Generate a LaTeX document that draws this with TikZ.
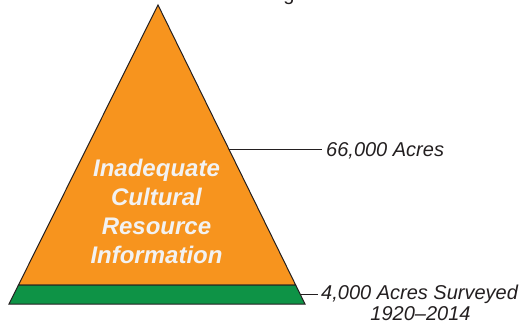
\documentclass[tikz,border=0pt]{standalone}
\usepackage{fontspec}
\setmainfont{Liberation Sans}
\usetikzlibrary{calc}
\definecolor{fillorange}{HTML}{F7941E}
\definecolor{fillgreen}{HTML}{0E9346}
\definecolor{edge}{HTML}{231F20}
\definecolor{inner}{HTML}{F2F2F2}
\begin{document}
\begin{tikzpicture}[x=1pt,y=-1pt,
  outline/.style={draw=edge, line width=1pt, line join=miter},
  leader/.style={draw=edge, line width=0.6pt},
  sidelabel/.style={font=\fontsize{20}{21.5}\selectfont\itshape, text=edge, inner sep=0pt},
  tierlabel/.style={font=\fontsize{24}{29}\selectfont\bfseries\itshape, text=inner,
    align=center, inner sep=0pt}]
\useasboundingbox (0,0) rectangle (528,321);

% pyramid corners
\coordinate (apex) at (158,5);
\coordinate (bl) at (9,304);
\coordinate (br) at (305,304);
\coordinate (ml) at ($(apex)!0.9365!(bl)$);
\coordinate (mr) at ($(apex)!0.9365!(br)$);

% tiers
\filldraw[outline, fill=fillorange] (apex) -- (mr) -- (ml) -- cycle;
\filldraw[outline, fill=fillgreen] (ml) -- (mr) -- (br) -- (bl) -- cycle;

% title descender above the frame
\node[font=\fontsize{20}{24}\selectfont, text=edge, inner sep=0pt, anchor=base] (title) at (289,0.6) {g};

% upper tier
\node[tierlabel] (tier) at (156.5,211.5) {Inadequate\\Cultural\\Resource\\Information};
\coordinate (upperedge) at ($(apex)!0.4816!(br)$);
\node[sidelabel, anchor=base west] (upper) at (326,157) {66,000 Acres};
\draw[leader] (upperedge) -- (upperedge -| 322,0);

% base tier
\coordinate (loweredge) at ($(apex)!0.9666!(br)$);
\node[sidelabel, anchor=base west] (lower) at (321,299) {4,000 Acres Surveyed};
\node[sidelabel, anchor=base] (years) at (420.5,320.5) {1920–2014};
\draw[leader] (loweredge) -- (loweredge -| 318,0);
\end{tikzpicture}
\end{document}
